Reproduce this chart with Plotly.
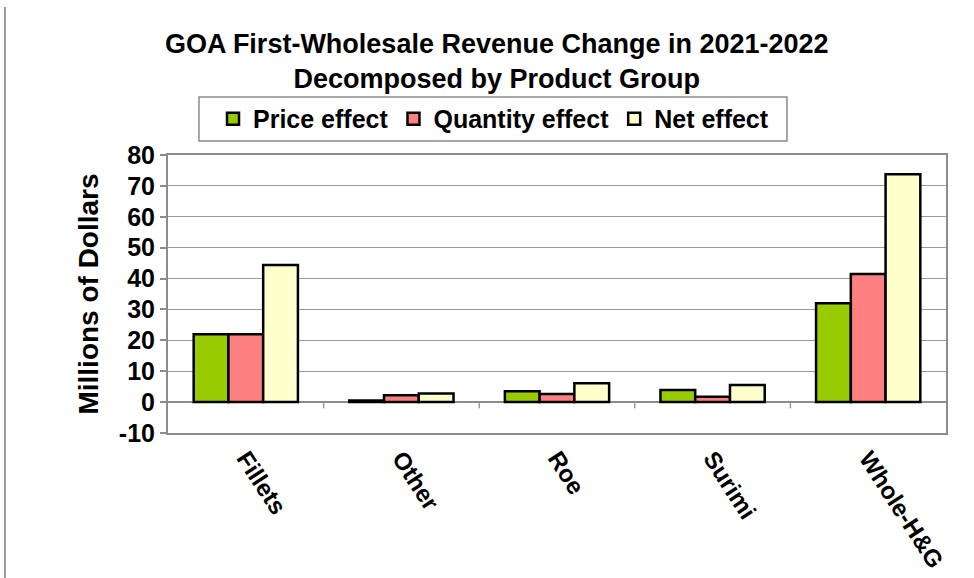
import plotly.graph_objects as go

categories = ["Fillets", "Other", "Roe", "Surimi", "Whole-H&G"]
price_effect = [22.0, 0.5, 3.5, 3.9, 32.0]
quantity_effect = [22.0, 2.2, 2.6, 1.7, 41.5]
net_effect = [44.4, 2.8, 6.1, 5.5, 73.8]
y_ticks = [-10, 0, 10, 20, 30, 40, 50, 60, 70, 80]
y_tick_labels = [str(v) for v in y_ticks]

FONT = "Liberation Sans, Arial, sans-serif"

fig = go.Figure()
series = [
    ("Price effect", price_effect, "#99CC00"),
    ("Quantity effect", quantity_effect, "#FF8080"),
    ("Net effect", net_effect, "#FFFFCC"),
]
for name, vals, col in series:
    fig.add_trace(go.Bar(
        x=categories, y=vals, name=name,
        marker=dict(color=col, line=dict(color="black", width=2.5)),
    ))

# category-boundary tick marks hanging from the zero line
n = len(categories)
for i in range(1, n):
    fig.add_shape(type="line", xref="x", yref="y",
                  x0=i - 0.5, x1=i - 0.5, y0=0, y1=-2,
                  line=dict(color="#999999", width=1.5))

# thin vertical rule at the far left of the picture
fig.add_shape(type="line", xref="paper", yref="paper",
              x0=-0.2095, x1=-0.2095, y0=-0.53, y1=1.532,
              line=dict(color="#666666", width=1.3))

# legend frame
fig.add_shape(type="rect", xref="paper", yref="paper",
              x0=0.0398, x1=0.7956, y0=1.0504, y1=1.2086,
              line=dict(color="#8a8a8a", width=1.5), fillcolor="white",
              layer="below")

fig.update_layout(
    width=974, height=578,
    margin=dict(l=168, r=28, t=155, b=145, autoexpand=False),
    paper_bgcolor="white", plot_bgcolor="white",
    barmode="group", bargap=0.33, bargroupgap=0,
    font=dict(family=FONT, color="black"),
    title=dict(
        text="<b>GOA First-Wholesale Revenue Change in 2021-2022<br>Decomposed by Product Group</b>",
        x=0.51, xanchor="center", y=0.909, yanchor="middle",
        font=dict(size=27, family=FONT, color="black"),
    ),
    legend=dict(
        orientation="h", x=0.4184, xanchor="center", y=1.1295, yanchor="middle",
        borderwidth=0, bgcolor="rgba(0,0,0,0)",
        font=dict(size=25, family=FONT, color="black", weight="bold"),
        itemwidth=30, tracegroupgap=0,
    ),
    showlegend=True,
    xaxis=dict(
        automargin=False,
        showline=True, mirror=True, linecolor="#8c8c8c", linewidth=2,
        ticks="", tickangle=57,
        tickfont=dict(size=24, family=FONT, color="black", weight="bold"),
        showgrid=False,
    ),
    yaxis=dict(
        automargin=False,
        range=[-10, 80], tickvals=y_ticks, ticktext=y_tick_labels,
        showline=True, mirror=True, linecolor="#8c8c8c", linewidth=2,
        ticks="outside", ticklen=6, tickcolor="#8c8c8c", tickwidth=1.5,
        showgrid=True, gridcolor="#9a9a9a", gridwidth=1.3,
        zeroline=True, zerolinecolor="#8c8c8c", zerolinewidth=1.5,
        tickfont=dict(size=25, family=FONT, color="black", weight="bold"),
        title=dict(text="<b>Millions of Dollars</b>", standoff=12,
                   font=dict(size=28, family=FONT, color="black")),
    ),
)

fig.write_html("out.html", config={"displayModeBar": False},
               post_script="document.body.style.margin='0';")
